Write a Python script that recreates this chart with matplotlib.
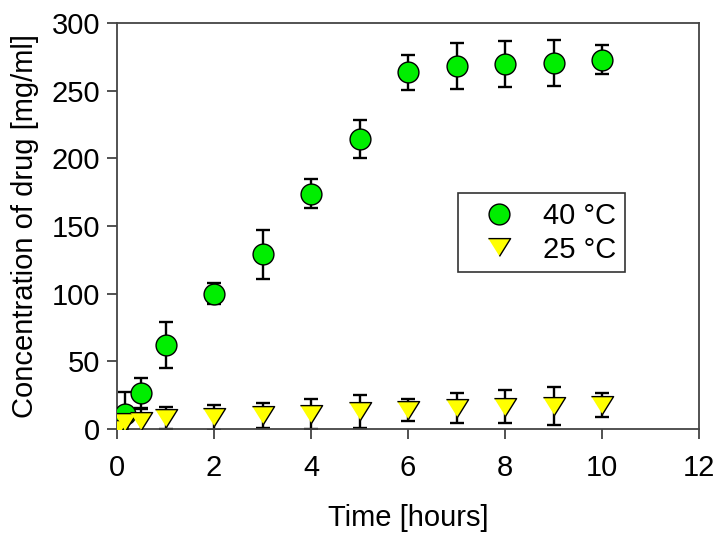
import matplotlib
matplotlib.use("Agg")
import matplotlib.pyplot as plt
import numpy as np

plt.rcParams['font.family'] = ['Liberation Sans', 'DejaVu Sans']

t40 = [0, 0.17, 0.5, 1, 2, 3, 4, 5, 6, 7, 8, 9, 10]
c40 = [0, 11, 26.5, 62, 100, 129, 174, 214, 263.5, 268.5, 270, 270.5, 273]
e40 = [0, 16, 11, 17, 8, 18, 11, 14, 13, 17, 17, 17, 11]

t25 = [0, 0.17, 0.5, 1, 2, 3, 4, 5, 6, 7, 8, 9, 10]
c25 = [0, 5, 6, 8, 8.5, 10, 11, 13, 14, 15.5, 16.5, 17, 17.5]
e25 = [0, 8, 9, 8, 9, 9, 11, 12, 8, 11, 12, 14, 9]

xticks = [0, 2, 4, 6, 8, 10, 12]
yticks = [0, 50, 100, 150, 200, 250, 300]

FS = 21
tri = [(-1, 0.8), (1, 0.8), (0, -0.8)]

fig = plt.figure(figsize=(7.17, 5.33), dpi=100)
ax = fig.add_axes([117/717, 1-429/533, (699-117)/717, (429-23)/533])

ax.errorbar(t40, c40, yerr=e40, fmt='none', ecolor='black', elinewidth=1.7,
            capsize=5, capthick=1.7, zorder=2)
ax.errorbar(t25, c25, yerr=e25, fmt='none', ecolor='black', elinewidth=1.7,
            capsize=5, capthick=1.7, zorder=2)
ax.plot(t40, c40, 'o', color='#00ee00', mec='black', mew=1.0, ms=15,
        label='40 °C', zorder=3, ls='none')
ax.plot(t25, c25, marker=tri, color='#ffff00', mec='black', mew=1.0, ms=16,
        label='25 °C', zorder=4, ls='none')

ax.set_xlim(0, 12)
ax.set_ylim(0, 300)
ax.set_xticks(xticks)
ax.set_yticks(yticks)
ax.tick_params(labelsize=FS, direction='out', length=7, width=1.2, color='#333333')
ax.tick_params(axis='x', pad=11)
ax.tick_params(axis='y', pad=5)
for s in ax.spines.values():
    s.set_color('#444444')
    s.set_linewidth(1.3)

ax.set_xlabel('Time [hours]', fontsize=FS, labelpad=15.5)
ax.set_ylabel('Concentration of drug [mg/ml]', fontsize=FS, labelpad=9)

leg = ax.legend(loc='upper left', bbox_to_anchor=((458-117)/582, (429-193)/406),
                fontsize=FS, frameon=True, fancybox=False, edgecolor='black',
                borderpad=0.3, handletextpad=0.41, labelspacing=0.2, borderaxespad=0,
                handlelength=2.2)
leg.get_frame().set_linewidth(1.2)

fig.savefig('out.png', dpi=100)
